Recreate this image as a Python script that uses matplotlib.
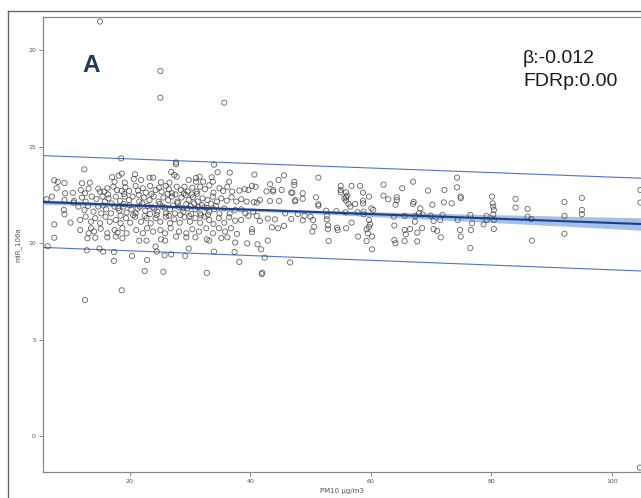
import matplotlib
matplotlib.use("Agg")
import matplotlib.pyplot as plt
from matplotlib.lines import Line2D
import numpy as np

# ---- data (PM10 vs miR_106a) ----
# outliers
out_x = [15.1, 25.1, 25.1, 35.7, 18.6, 12.5, 27.7, 27.7, 34.0, 12.6, 18.7, 22.5, 25.6, 32.8,
         41.9, 42.0, 46.6, 38.2, 104.6, 6.4, 104.7, 104.7]
out_y = [21.47, 18.91, 17.53, 17.27, 14.39, 13.82, 14.18, 14.08, 14.06, 7.06, 7.56, 8.56, 8.52, 8.46,
         8.40, 8.47, 9.00, 9.03, -1.62, 9.84, 12.75, 12.10]

# sparse right part (PM10 > 60)
right_x = [62.1, 62.9, 62.1, 64.3, 64.3, 65.2, 67.0, 69.5, 72.2, 74.3, 74.3, 74.9, 74.9, 72.1,
           73.4, 70.2, 67.1, 67.0, 68.2, 64.1, 68.0, 68.6, 69.9, 71.9, 70.4, 71.5, 63.8, 65.6,
           67.4, 74.4, 76.5, 76.8, 78.7, 79.2, 79.2, 80.1, 80.2, 80.3, 80.4, 80.3, 80.4, 80.4,
           84.0, 84.0, 86.0, 86.0, 86.6, 86.7, 92.1, 92.1, 92.1, 95.0, 95.0, 95.0, 76.5, 74.9,
           76.6, 74.8, 71.6, 71.0, 70.4, 68.5, 66.5, 67.7, 67.7, 65.6, 65.8, 63.9, 64.1, 65.6,
           63.9, 67.3]
right_y = [13.03, 12.27, 12.46, 12.37, 12.23, 12.84, 13.18, 12.72, 12.75, 13.39, 12.89, 12.41, 12.32, 12.11,
           12.06, 11.99, 12.13, 12.03, 11.80, 11.99, 11.54, 11.49, 11.42, 11.46, 11.15, 11.20, 11.37, 11.41,
           11.41, 11.20, 11.46, 11.03, 10.97, 11.41, 11.20, 12.41, 12.06, 11.89, 11.72, 11.49, 11.20, 10.73,
           12.29, 11.84, 11.77, 11.37, 11.25, 10.13, 12.13, 11.41, 10.49, 12.34, 11.72, 11.49, 9.75, 10.34,
           10.68, 10.68, 10.30, 10.63, 10.72, 10.78, 10.73, 10.54, 10.09, 10.68, 10.46, 10.16, 9.99, 10.11,
           10.91, 11.11]

# middle part (PM10 40-60)
mid_x = [40.7, 45.6, 44.7, 47.3, 47.3, 51.3, 43.3, 40.3, 40.9, 39.7, 43.8, 43.8, 42.7, 45.2,
         46.8, 47.0, 48.7, 48.7, 50.9, 47.5, 47.4, 41.6, 41.1, 40.6, 43.3, 44.8, 51.3, 51.3,
         55.0, 55.0, 55.0, 56.8, 58.2, 55.9, 55.9, 55.9, 55.6, 56.1, 58.7, 58.7, 58.7, 59.7,
         56.3, 56.6, 57.4, 60.1, 60.4, 54.3, 55.8, 57.8, 58.8, 58.8, 56.8, 52.6, 52.7, 52.7,
         50.0, 50.4, 50.6, 49.0, 47.9, 48.7, 50.3, 52.9, 52.9, 54.4, 54.5, 55.9, 57.9, 59.3,
         59.5, 59.7, 59.9, 59.3, 59.7, 60.2, 60.2, 53.0, 45.6, 44.6, 43.6, 42.9, 41.2, 41.8,
         42.4, 40.3, 40.3, 41.6, 41.1, 39.7, 40.5, 45.8, 46.8, 42.9, 44.1]
mid_y = [13.55, 13.51, 13.27, 13.17, 13.01, 13.39, 13.05, 12.96, 12.92, 12.75, 12.75, 12.67, 12.68, 12.75,
         12.61, 12.61, 12.58, 12.30, 12.37, 12.23, 12.16, 12.23, 12.10, 12.12, 12.18, 12.18, 12.01, 11.94,
         12.96, 12.63, 12.75, 12.96, 12.96, 12.63, 12.37, 12.20, 12.32, 12.46, 12.61, 12.20, 12.06, 12.41,
         12.03, 11.89, 12.03, 11.80, 11.72, 11.66, 11.60, 11.60, 11.63, 11.49, 11.06, 11.68, 11.42, 11.23,
         11.37, 11.20, 10.85, 11.41, 11.51, 11.18, 10.60, 10.92, 10.72, 10.80, 10.68, 10.77, 10.34, 10.72,
         10.51, 10.85, 10.98, 10.11, 11.20, 10.34, 9.68, 10.11, 10.89, 10.77, 10.82, 10.13, 9.94, 9.68,
         9.25, 10.57, 10.72, 11.15, 11.41, 11.41, 11.63, 11.54, 11.25, 11.27, 11.23]

# dense left part (PM10 < 40), by rows
r1_x = [7.5, 8.1, 9.2, 7.9, 12.1, 13.4, 17.1, 18.2, 18.7, 17.5, 19.2, 20.9, 20.7, 21.9, 23.3,
        23.9, 25.2, 26.9, 27.4, 27.8, 26.6, 29.8, 31.0, 31.6, 31.0, 32.2, 33.6, 33.8, 34.6, 36.5, 36.6]
r1_y = [13.25, 13.17, 13.11, 12.84, 13.10, 13.13, 13.41, 13.49, 13.60, 13.18, 13.13, 13.56, 13.32, 13.27, 13.39,
        13.39, 13.15, 13.68, 13.53, 13.44, 13.13, 13.27, 13.37, 13.44, 13.18, 13.18, 13.41, 13.18, 13.67, 13.18, 13.65]

r2_x = [9.3, 10.6, 11.9, 12.6, 13.2, 14.8, 15.1, 15.8, 16.3, 17.3, 17.9, 18.7, 19.3, 19.9, 21.0,
        21.4, 22.2, 22.7, 23.4, 24.3, 24.9, 25.3, 26.0, 26.5, 27.0, 27.8, 28.5, 29.1, 29.6, 30.4,
        31.1, 31.7, 32.5, 33.2, 33.9, 34.9, 35.5, 36.2, 37.0, 38.2, 39.1]
r2_y = [12.58, 12.61, 12.75, 12.58, 12.82, 12.82, 12.67, 12.67, 12.84, 12.92, 12.75, 12.70, 12.89, 12.70, 12.96,
        12.72, 12.84, 12.61, 12.96, 12.75, 12.87, 12.67, 12.96, 12.79, 12.58, 12.92, 12.75, 12.92, 12.67, 12.87,
        12.67, 12.92, 12.79, 12.99, 12.61, 12.84, 12.70, 12.92, 12.67, 12.72, 12.79]

r3_x = [6.2, 7.1, 9.2, 10.8, 12.1, 12.7, 13.7, 14.5, 15.5, 15.9, 16.5, 17.7, 18.4, 19.2, 19.9,
        20.5, 21.6, 22.4, 23.3, 24.0, 24.8, 25.6, 26.4, 27.0, 27.9, 28.6, 29.3, 29.8, 30.5, 31.3,
        32.1, 32.9, 33.8, 34.5, 35.2, 36.1, 36.9, 37.7, 38.5, 39.4]
r3_y = [12.27, 12.41, 12.23, 12.18, 12.36, 12.15, 12.41, 12.29, 12.41, 12.15, 12.32, 12.41, 12.18, 12.41, 12.23,
        12.41, 12.15, 12.36, 12.23, 12.41, 12.15, 12.36, 12.22, 12.41, 12.15, 12.36, 12.50, 12.23, 12.38, 12.15,
        12.32, 12.23, 12.41, 12.15, 12.32, 12.20, 12.37, 12.15, 12.27, 12.15]

r4_x = [10.7, 11.5, 12.5, 13.1, 14.0, 14.8, 15.3, 16.1, 16.9, 17.5, 18.3, 19.0, 19.5, 20.3, 21.0,
        21.7, 22.6, 23.4, 23.8, 24.6, 25.4, 26.0, 26.7, 27.5, 28.2, 28.9, 29.6, 30.2, 30.9, 31.7,
        32.4, 33.2, 34.0, 34.9, 35.7, 36.6, 37.5, 38.5, 39.2]
r4_y = [12.10, 11.89, 11.72, 11.92, 11.63, 11.89, 11.54, 11.75, 11.54, 11.89, 11.68, 11.89, 11.58, 11.75, 11.54,
        11.89, 11.68, 11.51, 11.85, 11.63, 11.89, 11.54, 11.75, 11.54, 11.85, 11.63, 11.80, 11.51, 11.75, 11.54,
        11.85, 11.63, 11.75, 11.54, 11.80, 11.54, 11.72, 11.75, 11.54]

r5_x = [7.5, 9.1, 9.2, 10.2, 11.8, 12.7, 13.6, 14.3, 15.1, 16.0, 16.7, 17.7, 18.5, 19.4, 20.1,
        20.9, 21.9, 22.8, 23.5, 24.3, 25.1, 26.0, 26.7, 27.4, 28.3, 29.1, 30.0, 30.9, 31.7, 32.4,
        33.2, 33.9, 34.8, 35.7, 36.5, 37.5, 38.5]
r5_y = [10.97, 11.72, 11.49, 11.06, 11.20, 11.37, 11.11, 11.29, 11.03, 11.37, 11.11, 11.20, 11.03, 11.29, 11.06,
        11.37, 11.11, 11.29, 11.03, 11.29, 11.11, 11.37, 11.03, 11.23, 11.06, 11.34, 11.11, 11.29, 11.06, 11.37,
        11.20, 10.99, 11.29, 11.06, 11.34, 11.16, 11.20]

r6_x = [11.8, 13.2, 13.6, 14.1, 15.2, 16.3, 17.5, 18.0, 18.8, 19.5, 21.1, 22.2, 22.9, 23.9, 25.1,
        25.9, 26.8, 28.2, 29.4, 30.4, 31.5, 32.7, 33.8, 34.8, 35.8, 36.8, 37.8]
r6_y = [10.68, 10.51, 10.77, 10.60, 10.75, 10.51, 10.68, 10.54, 10.77, 10.51, 10.68, 10.51, 10.77, 10.60, 10.68,
        10.51, 10.77, 10.60, 10.51, 10.72, 10.60, 10.77, 10.51, 10.77, 10.60, 10.77, 10.48]

r7_x = [7.5, 13.0, 14.3, 16.3, 17.7, 18.8, 21.6, 22.8, 25.2, 25.9, 27.7, 29.4, 30.9, 32.8, 33.2,
        35.2, 36.2, 37.5, 39.5]
r7_y = [10.28, 10.25, 10.28, 10.30, 10.34, 10.25, 10.13, 10.13, 10.20, 10.13, 10.34, 10.30, 10.30, 10.20, 10.13,
        10.27, 10.30, 10.03, 9.99]

r8_x = [12.9, 15.0, 15.6, 17.4, 20.4, 22.9, 24.3, 24.5, 25.8, 26.9, 29.2, 29.8, 34.0, 37.4, 17.4]
r8_y = [9.63, 9.72, 9.56, 9.54, 9.34, 9.13, 9.82, 9.56, 9.37, 9.42, 9.34, 9.72, 9.56, 9.54, 9.08]

# extra points in the darkest core of the cloud (PM10 15-35)
r9_x = [15.6, 17.0, 18.1, 19.0, 20.0, 21.3, 22.1, 23.0, 24.1, 25.0, 25.8, 26.3, 27.2, 28.0, 28.8,
        29.4, 30.1, 30.7, 31.4, 32.0, 32.8, 33.5, 34.3, 18.5, 20.6, 22.5, 24.5, 26.5, 28.4, 29.9,
        31.8, 33.0, 16.4, 19.1, 21.5, 23.6, 27.6, 29.0, 30.3, 31.2]
r9_y = [11.95, 12.05, 11.82, 12.02, 11.96, 11.80, 12.06, 11.92, 11.78, 12.03, 11.85, 12.55, 11.95, 12.07, 11.80,
        12.02, 11.92, 12.06, 11.86, 11.97, 11.82, 12.04, 11.92, 11.42, 11.45, 11.40, 11.46, 11.42, 11.46, 11.40,
        11.44, 11.48, 12.52, 12.55, 12.50, 12.54, 12.52, 12.58, 12.52, 12.56]

# fitted line, confidence band and prediction limits
fit_x = [5.6, 20, 35, 50, 70, 90, 104.8]
fit_y = [12.13, 11.96, 11.79, 11.62, 11.39, 11.16, 10.99]
ci_lo = [12.01, 11.88, 11.72, 11.53, 11.23, 10.91, 10.67]
ci_hi = [12.25, 12.04, 11.86, 11.71, 11.55, 11.41, 11.31]
pi_x = [5.6, 104.8]
pi_hi = [14.53, 13.36]
pi_lo = [9.78, 8.56]

x_ticks = [20, 40, 60, 80, 100]
y_ticks = [0, 5, 10, 15, 20]

pm10 = out_x + right_x + mid_x + r1_x + r2_x + r3_x + r4_x + r5_x + r6_x + r7_x + r8_x + r9_x
mir = out_y + right_y + mid_y + r1_y + r2_y + r3_y + r4_y + r5_y + r6_y + r7_y + r8_y + r9_y

W, H = 641, 498
fig = plt.figure(figsize=(W / 100, H / 100), dpi=100)
ax = fig.add_axes([42.9 / W, (H - 471.7) / H, 1 - 42.9 / W, (471.7 - 16.7) / H])

ax.fill_between(fit_x, ci_lo, ci_hi, color='#a4c0e6', lw=0, zorder=1)
ax.plot(pi_x, pi_hi, color='#4f74c4', lw=0.8, zorder=2)
ax.plot(pi_x, pi_lo, color='#4f74c4', lw=0.8, zorder=2)
ax.scatter(pm10, mir, s=14, facecolors='none', edgecolors='#3a3a3a', linewidths=0.6,
           alpha=0.8, zorder=3)
ax.plot(fit_x, fit_y, color='#1b3f8c', lw=1.5, zorder=4)

ax.set_xlim(5.62, 104.8)
ax.set_ylim(-1.83, 21.72)
ax.set_xticks(x_ticks)
ax.set_yticks(y_ticks)
ax.tick_params(labelsize=4.5, labelcolor='#555555', color='#777777', length=3, width=0.6, pad=2)
for s in ['left', 'bottom', 'top']:
    ax.spines[s].set_color('#888888')
    ax.spines[s].set_linewidth(0.9)
ax.spines['right'].set_visible(False)
ax.set_xlabel('PM10 μg/m3', fontsize=5, color='#555555', labelpad=3)
ax.set_ylabel('miR_106a', fontsize=5, color='#555555', labelpad=5)

fig.text(90.8 / W, 1 - 65.7 / H, 'A', ha='center', va='center',
         fontsize=17.5, fontweight='bold', color='#1c3a63', family='Liberation Sans')
fig.text(523 / W, 1 - 58.3 / H, 'β:-0.012', ha='left', va='center', fontsize=14,
         color='#1a1a1a', family='Liberation Sans')
fig.text(523 / W, 1 - 81.7 / H, 'FDRp:0.00', ha='left', va='center', fontsize=14,
         color='#1a1a1a', family='Liberation Sans')

# outer frame of the original panel
fig.add_artist(Line2D([8.2 / W, 8.2 / W], [0, 1 - 11 / H], color='#666666', lw=1))
fig.add_artist(Line2D([8.2 / W, 1], [1 - 11 / H, 1 - 11 / H], color='#666666', lw=1))

fig.savefig('out.png', dpi=100)
